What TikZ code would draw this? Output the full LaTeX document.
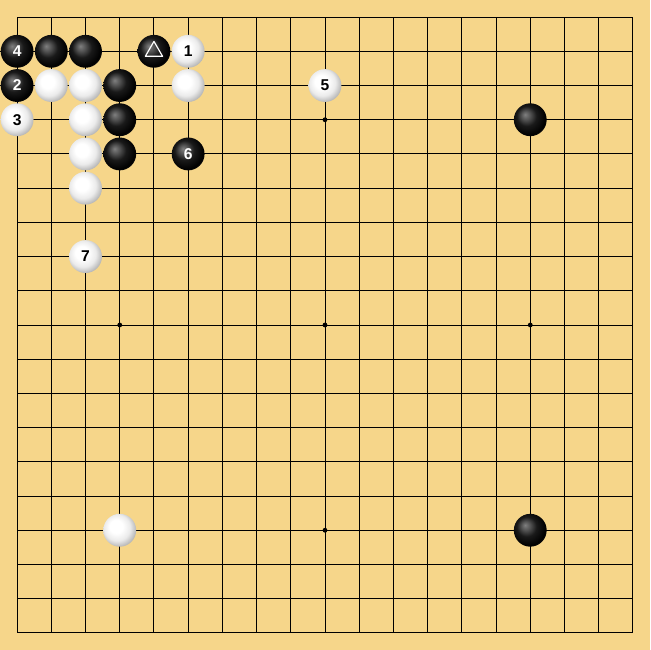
\documentclass[tikz,border=0pt]{standalone}
\usepackage{fontspec}
\setsansfont{Liberation Sans}
\usepackage{tikz}

\definecolor{board}{RGB}{246,214,138}

\pgfdeclareradialshading{blackball}{\pgfpoint{-8bp}{8bp}}{%
  color(0bp)=(black!50); color(7bp)=(black!68); color(15bp)=(black!90);
  color(27bp)=(black); color(32bp)=(black!85); color(50bp)=(black!85)}
\pgfdeclareradialshading{whiteball}{\pgfpoint{-7bp}{7bp}}{%
  color(0bp)=(white); color(10bp)=(white); color(20bp)=(black!8);
  color(28bp)=(black!28); color(34bp)=(black!38); color(50bp)=(black!38)}

\tikzset{
  bstone/.style={circle, inner sep=0pt, minimum size=0.96cm, shade, shading=blackball,
    text=white, font=\sffamily\bfseries\fontsize{13}{14}\selectfont},
  wstone/.style={circle, inner sep=0pt, minimum size=0.96cm, shade, shading=whiteball,
    text=black, font=\sffamily\bfseries\fontsize{13}{14}\selectfont},
}

\begin{document}
\begin{tikzpicture}[x=1cm, y=-1cm]
    \fill[board] (-0.5,-0.5) rectangle (18.5,18.5);
    \useasboundingbox (-0.5,-0.5) rectangle (18.5,18.5);
    % grid and star points
    \foreach \i in {0,...,18} {
      \draw[line width=0.8pt] (\i,0) -- (\i,18);
      \draw[line width=0.8pt] (0,\i) -- (18,\i);
    }
    \foreach \x in {3,9,15} \foreach \y in {3,9,15}
      \fill (\x,\y) circle (0.07);
    % black stones
    \node[bstone] (b4) at (0,1) {4};
    \node[bstone] (b11) at (1,1) {};
    \node[bstone] (b21) at (2,1) {};
    \node[bstone] (tri) at (4,1) {};
    \node[bstone] (b2) at (0,2) {2};
    \node[bstone] (b32) at (3,2) {};
    \node[bstone] (b33) at (3,3) {};
    \node[bstone] (b34) at (3,4) {};
    \node[bstone] (b6) at (5,4) {6};
    \node[bstone] (b153) at (15,3) {};
    \node[bstone] (b1515) at (15,15) {};
    % white stones
    \node[wstone] (w1) at (5,1) {1};
    \node[wstone] (w12) at (1,2) {};
    \node[wstone] (w22) at (2,2) {};
    \node[wstone] (w52) at (5,2) {};
    \node[wstone] (w5) at (9,2) {5};
    \node[wstone] (w3) at (0,3) {3};
    \node[wstone] (w23) at (2,3) {};
    \node[wstone] (w24) at (2,4) {};
    \node[wstone] (w25) at (2,5) {};
    \node[wstone] (w7) at (2,7) {7};
    \node[wstone] (w315) at (3,15) {};
    % last move mark
    \draw[white, line width=1pt, line join=round]
      ([shift={(270:0.29)}]tri.center) -- ([shift={(30:0.29)}]tri.center)
      -- ([shift={(150:0.29)}]tri.center) -- cycle;
\end{tikzpicture}
\end{document}
